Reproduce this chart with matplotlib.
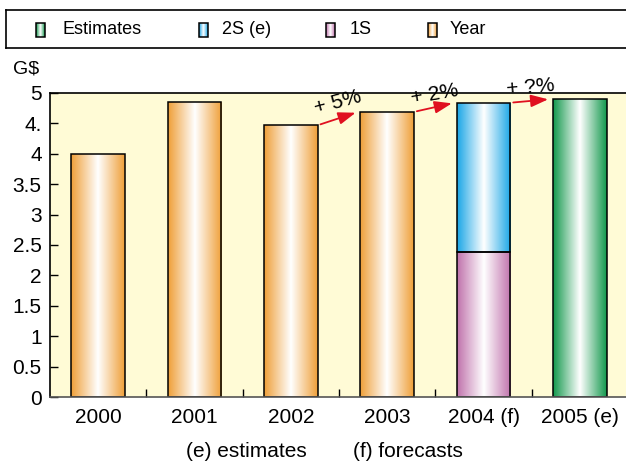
import numpy as np
import matplotlib.pyplot as plt
from matplotlib.colors import LinearSegmentedColormap
from matplotlib.patches import Rectangle

plt.rcParams['font.family'] = ['Liberation Sans', 'DejaVu Sans']

# chart data
years = ['2000', '2001', '2002', '2003', '2004 (f)', '2005 (e)']
year_vals = [4.0, 4.85, 4.47, 4.69]
s1_2004 = 2.38
s2_2004 = 2.46
est_2005 = 4.90
growth = ['+ 5%', '+ 2%', '+ ?%']
yticks = [0, 0.5, 1, 1.5, 2, 2.5, 3, 3.5, 4, 4.5, 5]
ytick_labels = ['0', '0.5', '1', '1.5', '2', '2.5', '3', '3.5', '4', '4.', '5']

legend_names = ['Estimates', '2S (e)', '1S', 'Year']
colors = {'Year': '#EF9F38', '1S': '#C072AC', '2S (e)': '#1AA6E6', 'Estimates': '#12984C'}


def grad_cmap(c):
    return LinearSegmentedColormap.from_list('g', [c, 'white', c])


def grad_bar(ax, x, y0, h, w, color, z=2):
    # horizontal shading: dark edges, white centre
    grad = np.linspace(0, 1, 256).reshape(1, -1)
    im = ax.imshow(grad, cmap=grad_cmap(color), aspect='auto',
                   extent=(x - w / 2, x + w / 2, y0, y0 + h), zorder=z)
    r = Rectangle((x - w / 2, y0), w, h, fill=False, edgecolor='black', lw=1.1, zorder=z + 0.1)
    ax.add_patch(r)
    im.set_clip_path(r)
    return r


fig = plt.figure(figsize=(6.26, 4.61), dpi=100)
ax = fig.add_axes([50 / 626, 64 / 461, 578 / 626, 304 / 461])
ax.set_facecolor('#FFFBD6')

w = 0.56
x = np.arange(len(years))
for i, v in enumerate(year_vals):
    grad_bar(ax, x[i], 0, v, w, colors['Year'])
grad_bar(ax, x[4], 0, s1_2004, w, colors['1S'])
grad_bar(ax, x[4], s1_2004, s2_2004, w, colors['2S (e)'])
grad_bar(ax, x[5], 0, est_2005, w, colors['Estimates'])

ax.set_xlim(-0.5, len(years) - 0.5)
ax.set_ylim(0, 5)
ax.set_xticks(x)
ax.set_xticklabels(years, fontsize=15)
ax.set_xticks(np.arange(0.5, len(years) - 1), minor=True)
ax.tick_params(axis='x', which='major', length=0, pad=8)
ax.tick_params(axis='x', which='minor', direction='in', length=6, width=1)
ax.set_yticks(yticks)
ax.set_yticklabels(ytick_labels, fontsize=15)
ax.tick_params(axis='y', direction='in', length=6, width=1, pad=6)
for s in ['left', 'top', 'bottom']:
    ax.spines[s].set_linewidth(1.2)
ax.spines['right'].set_visible(False)
ax.spines['bottom'].set_color('#555555')

# growth arrows between bar tops
tops = year_vals[2:] + [s1_2004 + s2_2004, est_2005]
for k in range(3):
    i = 2 + k
    ax.annotate('', xy=(x[i + 1] - w / 2 - 0.02, tops[k + 1]), xytext=(x[i] + w / 2, tops[k]),
                arrowprops=dict(arrowstyle='-|>,head_length=0.7,head_width=0.25', color='#E01020',
                                lw=1.3, mutation_scale=15),
                annotation_clip=False, zorder=4)
rots = [15, 10, 5]
lab_y = [4.84, 4.98, 5.10]
for k in range(3):
    ax.text(x[2 + k] + 0.49, lab_y[k], growth[k], fontsize=15, rotation=rots[k],
            ha='center', va='center', clip_on=False, zorder=4)

fig.text(13 / 626, 1 - 69 / 461, 'G$', fontsize=14, va='center')
fig.text(246 / 626, 1 - 451 / 461, '(e) estimates', fontsize=15, ha='center', va='center')
fig.text(408 / 626, 1 - 451 / 461, '(f) forecasts', fontsize=15, ha='center', va='center')

# legend strip at the top
lax = fig.add_axes([6 / 626, 1 - 48 / 461, 640 / 626, 38 / 461])
lax.set_xticks([])
lax.set_yticks([])
for s in lax.spines.values():
    s.set_linewidth(1.2)
patch_x = [36, 199, 326, 428]
text_x = [62, 222, 350, 450]
for name, px, tx in zip(legend_names, patch_x, text_x):
    grad = np.linspace(0, 1, 64).reshape(1, -1)
    lax.imshow(grad, cmap=grad_cmap(colors[name]), aspect='auto', extent=(px, px + 9, 37, 23), zorder=2)
    lax.add_patch(Rectangle((px, 23), 9, 14, fill=False, edgecolor='black', lw=1.1, zorder=3))
    lax.text(tx, 29.5, name, fontsize=13, va='center')
lax.set_xlim(6, 646)
lax.set_ylim(48, 10)

fig.savefig('out.png', dpi=100)
